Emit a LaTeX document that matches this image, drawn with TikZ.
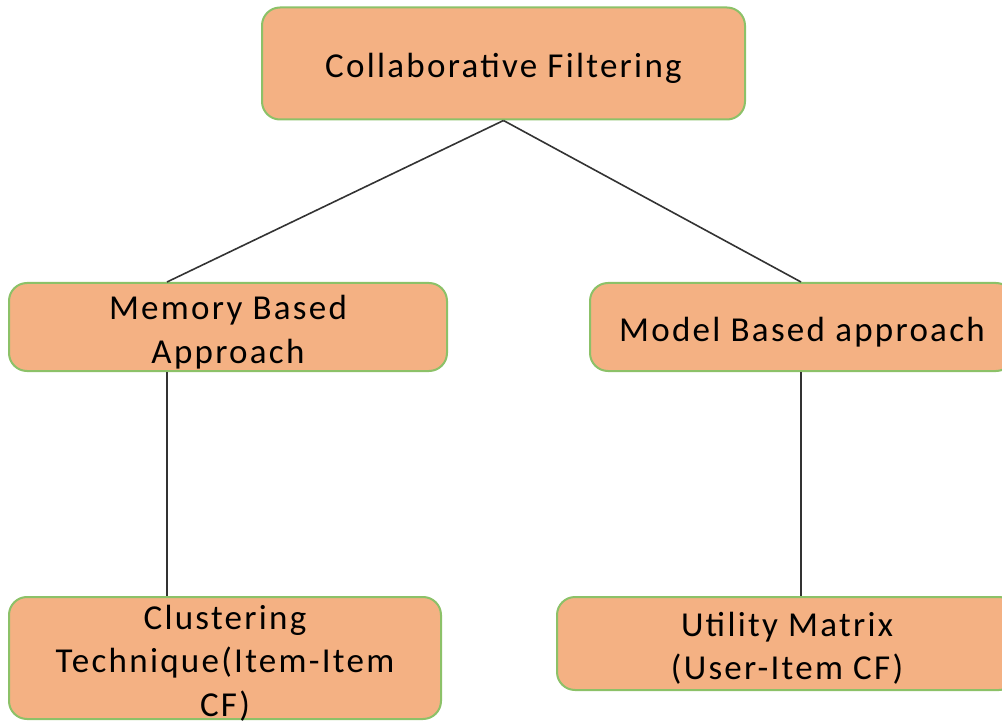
\documentclass[tikz,border=0pt]{standalone}
\usepackage{fontspec}
\setmainfont{Carlito}[LetterSpace=6.5]
\definecolor{boxfill}{HTML}{F4B183}
\definecolor{boxedge}{HTML}{8CC168}
\definecolor{linkgray}{HTML}{333333}
\begin{document}
\begin{tikzpicture}[x=1pt,y=-1pt,
  cfbox/.style={draw=boxedge, line width=2pt, fill=boxfill, rounded corners=18pt,
    inner sep=0pt},
  cftext/.style={inner sep=0pt, align=center, text=black,
    font=\fontsize{35}{43.5}\selectfont},
  link/.style={draw=linkgray, line width=1.6pt}]
\useasboundingbox (0,0) rectangle (1002,722);
\clip (0,0) rectangle (1002,722);

% hierarchy boxes
\node[cfbox, minimum width=483pt, minimum height=112pt] (cf)  at (503.5,63.5) {};
\node[cfbox, minimum width=438pt, minimum height=88pt]  (mem) at (228,327) {};
\node[cfbox, minimum width=424pt, minimum height=88pt]  (mod) at (802,327) {};
\node[cfbox, minimum width=432pt, minimum height=122pt] (clu) at (225,658) {};
\node[cfbox, minimum width=460pt, minimum height=93pt]  (uti) at (787,643.5) {};

% box labels
\node[cftext] (cfl)  at ([yshift=-5pt]cf.center)  {Collaborative Filtering};
\node[cftext] (meml) at ([yshift=-5pt]mem.center) {Memory Based\\Approach};
\node[cftext] (modl) at ([yshift=-5pt]mod.center) {Model Based approach};
\node[cftext] (clul) at ([yshift=-5pt]clu.center) {Clustering\\Technique(Item-Item\\CF)};
\node[cftext] (util) at ([yshift=-5pt]uti.center) {Utility Matrix\\(User-Item CF)};

% connectors
\draw[link] (cf.south) -- ([xshift=159pt]mem.north west);
\draw[link] (cf.south) -- ([xshift=212pt]mod.north west);
\draw[link] ([xshift=159pt]mem.south west) -- ([xshift=159pt]clu.north west);
\draw[link] ([xshift=212pt]mod.south west) -- ([xshift=245pt]uti.north west);
\end{tikzpicture}
\end{document}
